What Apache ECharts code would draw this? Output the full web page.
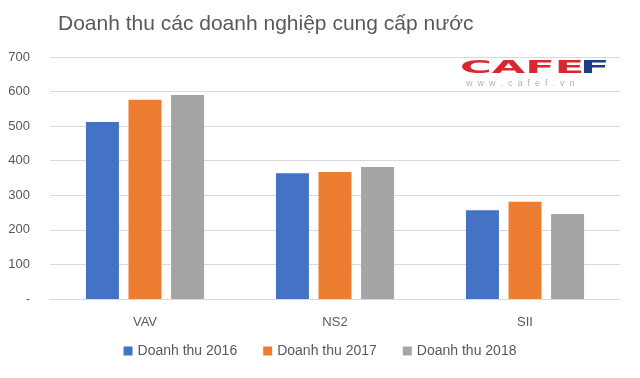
<!DOCTYPE html>
<html>
<head>
<meta charset="utf-8">
<script src="https://cdn.jsdelivr.net/npm/echarts@6/dist/echarts.min.js"></script>
<style>
  html, body { margin: 0; padding: 0; background: #fff; }
  #chart { width: 640px; height: 378px; }
</style>
</head>
<body>
<div id="chart"></div>
<script>
  // du lieu doanh thu
  const companies = ['VAV', 'NS2', 'SII'];
  const rev2016 = [512, 364, 257];
  const rev2017 = [576, 367, 281];
  const rev2018 = [590, 382, 246];
  const seriesNames = ['Doanh thu 2016', 'Doanh thu 2017', 'Doanh thu 2018'];
  const yTicks = [0, 100, 200, 300, 400, 500, 600, 700];

  const colors = ['#4472c4', '#ed7d31', '#a5a5a5'];
  const textColor = '#595959';
  const font = 'Liberation Sans, Arial, sans-serif';

  const chart = echarts.init(document.getElementById('chart'), null, { renderer: 'canvas' });

  const mkSeries = (name, data, color) => ({
    name,
    type: 'bar',
    data,
    barWidth: 33,
    barGap: '29%',
    itemStyle: { color },
    emphasis: { disabled: true }
  });

  chart.setOption({
    animation: false,
    color: colors,
    title: {
      text: 'Doanh thu các doanh nghiệp cung cấp nước',
      left: 53,
      top: 9,
      textStyle: { fontFamily: font, fontSize: 21, fontWeight: 'normal', color: textColor }
    },
    grid: { left: 50, right: 20, top: 57, bottom: 79, containLabel: false },
    legend: {
      data: seriesNames,
      bottom: 15,
      left: 'center',
      itemWidth: 9,
      itemHeight: 9,
      itemGap: 26,
      icon: 'rect',
      textStyle: { fontFamily: font, fontSize: 14, color: textColor }
    },
    xAxis: {
      type: 'category',
      data: companies,
      axisLine: { show: true, lineStyle: { color: '#d9d9d9', width: 1 } },
      axisTick: { show: false },
      axisLabel: { fontFamily: font, fontSize: 13, color: textColor, margin: 17 }
    },
    yAxis: {
      type: 'value',
      min: yTicks[0],
      max: yTicks[yTicks.length - 1],
      interval: 100,
      axisLine: { show: false },
      axisTick: { show: false },
      splitLine: { lineStyle: { color: '#d9d9d9', width: 1 } },
      axisLabel: {
        fontFamily: font,
        fontSize: 13,
        color: textColor,
        margin: 20,
        formatter: v => (v === 0 ? '-' : String(v))
      }
    },
    series: [
      mkSeries(seriesNames[0], rev2016, colors[0]),
      mkSeries(seriesNames[1], rev2017, colors[1]),
      mkSeries(seriesNames[2], rev2018, colors[2])
    ],
    graphic: [
      {
        type: 'group',
        left: 460,
        top: 59,
        scaleX: 2.4,
        children: [
          {
            type: 'text',
            style: { text: 'CAFE', fontFamily: 'DejaVu Sans', fontWeight: 'bold', fontSize: 18, fill: '#d7282f' }
          },
          {
            type: 'text',
            left: 50,
            style: { text: 'F', fontFamily: 'DejaVu Sans', fontWeight: 'bold', fontSize: 18, fill: '#1f3c88' }
          }
        ]
      },
      {
        type: 'text',
        left: 466,
        top: 79,
        style: {
          text: 'w  w  w  .  c  a  f  e  f  .  v  n',
          fontFamily: font,
          fontSize: 9,
          fill: '#b0b0b0'
        }
      }
    ]
  });
</script>
</body>
</html>
